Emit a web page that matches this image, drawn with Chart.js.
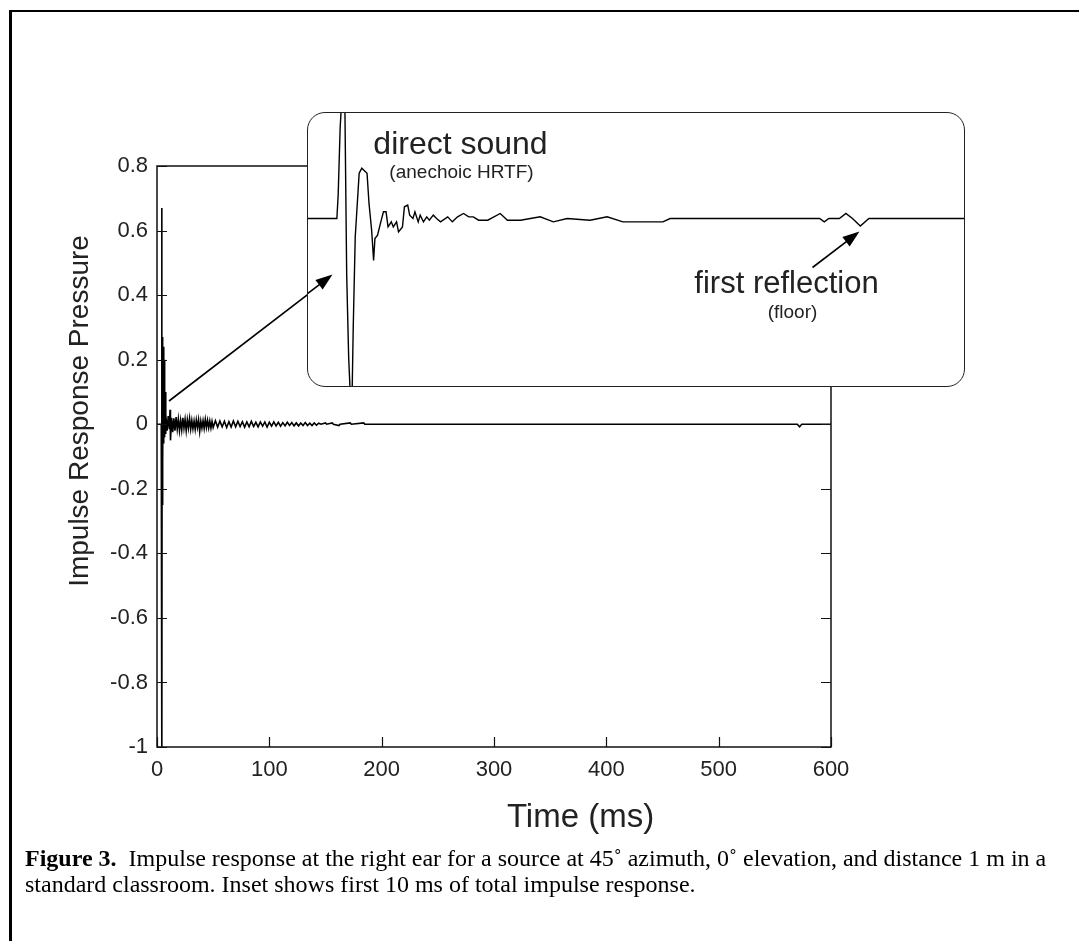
<!DOCTYPE html>
<html>
<head>
<meta charset="utf-8">
<script src="https://cdn.jsdelivr.net/npm/chart.js@4.4.1/dist/chart.umd.min.js"></script>
<style>
  body { margin: 0; background: #fff; }
  #wrap { position: relative; width: 1079px; height: 941px; overflow: hidden; background: #fff; }
  #frame { position: absolute; left: 9px; top: 10px; width: 1200px; height: 1000px;
           border-left: 3px solid #000; border-top: 2px solid #000; }
  #mainBox { position: absolute; left: 0; top: 0; width: 1079px; height: 941px; }
  #insetBox { position: absolute; left: 307px; top: 112px; width: 656px; height: 273px;
              border: 1.5px solid #222; border-radius: 18px; background: #fff; overflow: hidden; }
  #caption { position: absolute; left: 25px; top: 845px; width: 1060px;
             font-family: "Liberation Serif", "Times New Roman", serif; font-size: 24px;
             line-height: 26px; color: #000; white-space: nowrap; }
</style>
</head>
<body>
<div id="wrap">
  <div id="frame"></div>
  <div id="mainBox"><canvas id="mainChart" width="1079" height="941"></canvas></div>
  <div id="insetBox"><canvas id="insetChart" width="656" height="273"></canvas></div>
  <div id="caption"><b>Figure 3.</b>&nbsp; Impulse response at the right ear for a source at 45˚ azimuth, 0˚ elevation, and distance 1 m in a<br>standard classroom. Inset shows first 10 ms of total impulse response.</div>
</div>
<script>
// 全体のインパルス応答 (ms, 圧力)
const mainTime = [0, 3.8, 4.2, 4.4, 4.6, 4.8, 5.0, 5.3, 5.6, 6.0, 6.4, 6.8, 7.2, 7.6,
    8, 9, 10, 11, 11.6, 12, 13, 14, 15, 16, 17, 18, 19, 20, 21, 22, 23, 24, 25, 26, 27, 28, 29, 30,
    31, 32, 33, 34, 35, 36, 37, 38, 39, 40, 41, 42, 43, 44, 45, 46, 47, 48, 49, 50,
    52, 54, 56, 58, 60, 62, 64, 66, 68, 70, 72, 74, 76, 78, 80, 82, 84, 86, 88, 90, 92, 94, 96, 98,
    100, 102, 104, 106, 108, 110, 112, 114, 116, 118, 120, 122, 124, 126, 128, 130, 132, 134, 136, 138,
    140, 142, 144, 146, 150, 151, 156, 157, 162, 163, 172, 173, 184, 185, 570, 572, 574, 600];
const mainPressure = [0, 0, 0.67, -1.05, 0.27, -0.25, 0.27, -0.12, 0.24, -0.06, 0.2, -0.04, 0.1, -0.03,
    0.03, -0.02, 0.025, -0.015, 0.045, -0.05, 0.02, -0.025, 0.018, -0.02, 0.022, -0.015, 0.016, -0.02, 0.012, -0.018, 0.02, -0.012, 0.015, -0.02, 0.014, -0.012, 0.018, -0.015,
    0.012, -0.014, 0.01, -0.016, 0.013, -0.01, 0.014, -0.022, 0.01, -0.012, 0.011, -0.013, 0.015, -0.01, 0.012, -0.011, 0.01, -0.012, 0.009, -0.01,
    0.011, -0.009, 0.01, -0.008, 0.009, -0.01, 0.008, -0.009, 0.01, -0.008, 0.009, -0.007, 0.008, -0.009, 0.007, -0.008, 0.009, -0.007, 0.006, -0.008, 0.007, -0.006, 0.007, -0.009,
    0.006, -0.006, 0.007, -0.005, 0.006, -0.006, 0.005, -0.005, 0.006, -0.004, 0.005, -0.005, 0.004, -0.005, 0.004, -0.004, 0.005, -0.004, 0.003, -0.004,
    0.004, -0.003, 0.003, 0, 0.004, 0, 0.004, 0, -0.004, 0, 0.004, 0, 0.004, 0, 0, -0.008, 0, 0];

// インセット: 最初の10 ms
const insetTime = [0, 0.44, 0.46, 0.49, 0.52, 0.56, 0.59, 0.62, 0.65, 0.67,
    0.69, 0.72, 0.78, 0.82, 0.90, 0.93, 0.97, 1.00, 1.02, 1.06,
    1.11, 1.15, 1.19, 1.22, 1.27, 1.30, 1.35, 1.38, 1.44, 1.47,
    1.52, 1.55, 1.60, 1.63, 1.68, 1.71, 1.76, 1.81, 1.85, 1.91,
    1.96, 2.02, 2.13, 2.20, 2.28, 2.37, 2.45, 2.52, 2.60, 2.74,
    2.93, 3.04, 3.24, 3.54, 3.74, 3.95, 4.30, 4.56, 4.80, 5.06,
    5.41, 5.52, 6.20, 7.00, 7.80, 7.87, 7.94, 8.10, 8.20, 8.30,
    8.42, 8.55, 8.70, 10];
const insetPressure = [0, 0, 0.14, 0.54, 0.75, 0.75, -0.34, -0.83, -1.1, -1.1,
    -0.64, -0.11, 0.27, 0.30, 0.27, 0.09, -0.07, -0.25, -0.12, -0.10,
    -0.02, 0.04, 0.04, -0.05, -0.02, -0.05, -0.02, -0.08, -0.05, 0.07,
    0.08, 0.02, 0, 0.04, -0.02, 0.02, -0.02, 0.01, -0.01, 0.02,
    0, -0.02, 0.01, -0.02, 0.01, 0.03, 0.01, 0.01, -0.01, -0.01,
    0.03, -0.01, -0.01, 0.01, -0.02, 0, -0.01, 0.01, -0.02, -0.02,
    -0.02, 0, 0, 0, 0, -0.02, 0, 0, 0.03, 0,
    -0.045, 0, 0, 0];

// 目盛りラベル
const xTickLabels = ['0', '100', '200', '300', '400', '500', '600'];
const yTickLabels = ['-1', '-0.8', '-0.6', '-0.4', '-0.2', '0', '0.2', '0.4', '0.6', '0.8'];

const FONT = '"Liberation Sans", Arial, Helvetica, sans-serif';
const INSET_X = 308.5, INSET_Y = 113.5; // インセットキャンバスの左上 (ページ座標)

// 矢印を描く
function drawArrow(ctx, x0, y0, x1, y1) {
    const a = Math.atan2(y1 - y0, x1 - x0);
    const len = 17, half = 6;
    ctx.beginPath();
    ctx.moveTo(x0, y0);
    ctx.lineTo(x1 - Math.cos(a) * len * 0.8, y1 - Math.sin(a) * len * 0.8);
    ctx.stroke();
    ctx.beginPath();
    ctx.moveTo(x1, y1);
    ctx.lineTo(x1 - Math.cos(a) * len + Math.sin(a) * half, y1 - Math.sin(a) * len - Math.cos(a) * half);
    ctx.lineTo(x1 - Math.cos(a) * len - Math.sin(a) * half, y1 - Math.sin(a) * len + Math.cos(a) * half);
    ctx.closePath();
    ctx.fill();
}

// 枠と内向きの目盛り
const frameTicks = {
    id: 'frameTicks',
    afterDatasetsDraw(chart) {
        const { ctx, chartArea: { left, right, top, bottom }, scales: { x, y } } = chart;
        ctx.save();
        ctx.strokeStyle = '#111';
        ctx.lineWidth = 1.5;
        ctx.strokeRect(left, top, right - left, bottom - top);
        ctx.lineWidth = 1.2;
        ctx.beginPath();
        y.ticks.forEach(t => {
            const py = Math.round(y.getPixelForValue(t.value)) + 0.5;
            ctx.moveTo(left, py); ctx.lineTo(left + 10, py);
            ctx.moveTo(right, py); ctx.lineTo(right - 10, py);
        });
        x.ticks.forEach(t => {
            const px = Math.round(x.getPixelForValue(t.value)) + 0.5;
            ctx.moveTo(px, bottom); ctx.lineTo(px, bottom - 10);
        });
        ctx.stroke();

        // 軸タイトル
        ctx.fillStyle = '#222';
        ctx.font = '33px ' + FONT;
        ctx.textAlign = 'center';
        ctx.textBaseline = 'alphabetic';
        ctx.fillText('Time (ms)', x.getPixelForValue(377), bottom + 80);
        ctx.font = '28px ' + FONT;
        ctx.translate(88, 411);
        ctx.rotate(-Math.PI / 2);
        ctx.fillText('Impulse Response Pressure', 0, 0);
        ctx.restore();

        // 矢印 (直接音へ)
        ctx.save();
        ctx.strokeStyle = '#000';
        ctx.fillStyle = '#000';
        ctx.lineWidth = 1.6;
        drawArrow(ctx, 169, 401, 333, 275);
        ctx.restore();
    }
};

// インセットの注記
const insetNotes = {
    id: 'insetNotes',
    afterDatasetsDraw(chart) {
        const { ctx } = chart;
        ctx.save();
        ctx.translate(-INSET_X, -INSET_Y);
        ctx.fillStyle = '#222';
        ctx.textAlign = 'center';
        ctx.textBaseline = 'alphabetic';
        ctx.font = '32px ' + FONT;
        ctx.fillText('direct sound', 461, 154);
        ctx.font = '31px ' + FONT;
        ctx.fillText('first reflection', 787, 293);
        ctx.font = '19px ' + FONT;
        ctx.fillText('(anechoic HRTF)', 462, 178);
        ctx.fillText('(floor)', 793, 318);
        ctx.strokeStyle = '#000';
        ctx.fillStyle = '#000';
        ctx.lineWidth = 1.6;
        drawArrow(ctx, 169, 401, 333, 275);
        drawArrow(ctx, 813, 268, 860, 232);
        ctx.restore();
    }
};

const mainChart = new Chart(document.getElementById('mainChart'), {
    type: 'line',
    data: {
        datasets: [{
            data: mainTime.map((t, i) => ({ x: t, y: mainPressure[i] })),
            borderColor: '#000',
            borderWidth: 1.6,
            pointRadius: 0,
            tension: 0
        }]
    },
    options: {
        responsive: false,
        animation: false,
        layout: { padding: { left: 97, right: 248, top: 166, bottom: 149 } },
        plugins: { legend: { display: false }, tooltip: { enabled: false } },
        scales: {
            x: {
                type: 'linear', min: 0, max: 600,
                grid: { display: false, drawTicks: false },
                border: { display: false },
                ticks: {
                    stepSize: 100, padding: 10, color: '#222', maxRotation: 0,
                    font: { family: FONT, size: 22 },
                    callback: (v, i) => xTickLabels[i]
                },
                afterFit: s => { s.height = 45; }
            },
            y: {
                min: -1, max: 0.8,
                grid: { display: false, drawTicks: false },
                border: { display: false },
                ticks: {
                    stepSize: 0.2, padding: 9, color: '#222',
                    font: { family: FONT, size: 22 },
                    callback: (v, i) => yTickLabels[i]
                },
                afterFit: s => { s.width = 60; }
            }
        }
    },
    plugins: [frameTicks]
});

const insetChart = new Chart(document.getElementById('insetChart'), {
    type: 'line',
    data: {
        datasets: [{
            data: insetTime.map((t, i) => ({ x: t, y: insetPressure[i] })),
            borderColor: '#000',
            borderWidth: 1.4,
            pointRadius: 0,
            tension: 0
        }]
    },
    options: {
        responsive: false,
        animation: false,
        layout: { padding: 0 },
        plugins: { legend: { display: false }, tooltip: { enabled: false } },
        scales: {
            x: { type: 'linear', min: 0, max: 10, display: false },
            y: { min: -1, max: 0.63, display: false }
        }
    },
    plugins: [insetNotes]
});
</script>
</body>
</html>
